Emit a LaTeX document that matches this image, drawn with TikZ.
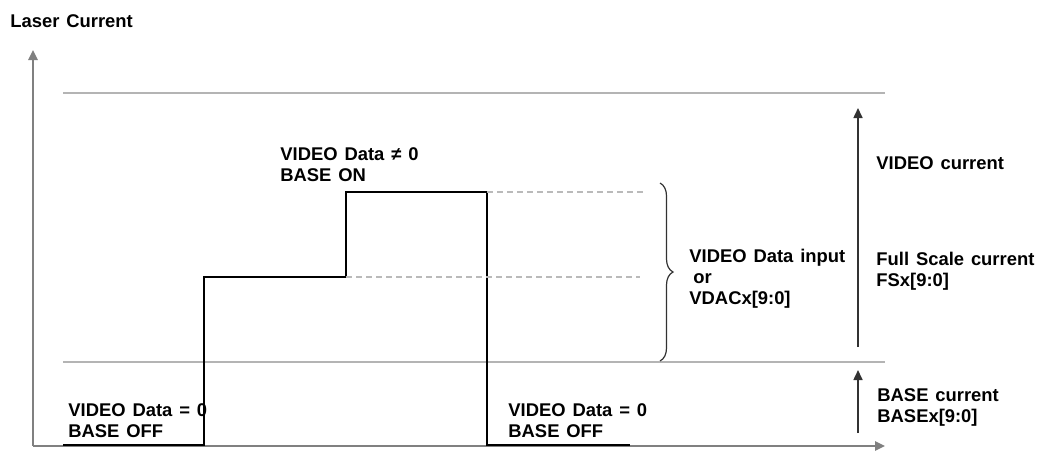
\documentclass[tikz,border=0pt]{standalone}
\usepackage{fontspec}
\setmainfont{Liberation Sans}[WordSpace=1.35]
\usepackage{tikz}
\usetikzlibrary{arrows.meta,decorations.pathreplacing}
\definecolor{axisgray}{RGB}{128,128,128}
\definecolor{gridgray}{RGB}{180,180,180}
\definecolor{dashgray}{RGB}{186,186,186}
\definecolor{arrowdark}{RGB}{50,50,50}

\begin{document}
\begin{tikzpicture}[
  x=0.5pt, y=-0.5pt,
  lbl/.style={font=\bfseries\fontsize{9.2}{10.5}\selectfont,
    inner sep=0pt, anchor=north west, align=left},
  axisline/.style={draw=axisgray, line width=1.2pt,
    -{Triangle[length=5pt,width=4.5pt]}},
  levelline/.style={draw=gridgray, line width=0.6pt},
  dashline/.style={draw=dashgray, line width=0.6pt,
    dash pattern=on 2.8pt off 2.2pt},
  wave/.style={draw=black, line width=1pt},
  currarrow/.style={draw=arrowdark, line width=0.8pt,
    -{Triangle[length=5pt,width=4.5pt]}}
]
\useasboundingbox (0,0) rectangle (1037,450);

% Achsen
\coordinate (origin) at (33,446);
\coordinate (ytip) at (33,50);
\coordinate (xtip) at (885,446);
\draw[axisline] (origin) -- (ytip);
\draw[axisline] (origin) -- (xtip);

% Pegel (Full Scale / BASE)
\coordinate (fsL) at (63,93);
\coordinate (fsR) at (885,93);
\coordinate (baseL) at (63,362);
\coordinate (baseR) at (885,362);
\draw[levelline] (fsL) -- (fsR);
\draw[levelline] (baseL) -- (baseR);

% Laserstrom-Verlauf
\coordinate (w0) at (63,445);
\coordinate (w1) at (204,445);
\coordinate (w2) at (204,277);
\coordinate (w3) at (346,277);
\coordinate (w4) at (346,192);
\coordinate (w5) at (487,192);
\coordinate (w6) at (487,445);
\coordinate (w7) at (630,445);
\draw[wave] (w0) -- (w1) -- (w2) -- (w3) -- (w4) -- (w5) -- (w6) -- (w7);

% Hilfslinien
\coordinate (d1) at (643,192);
\coordinate (d2) at (640,277);
\draw[dashline] (w5) -- (d1);
\draw[dashline] (w3) -- (d2);

% Klammer
\coordinate (brtop) at (660,183);
\coordinate (brbot) at (660,361);
\draw[arrowdark, line width=0.6pt,
  decorate, decoration={brace, amplitude=6.5pt}] (brtop) -- (brbot);

% Strompfeile
\coordinate (vidbot) at (858,347);
\coordinate (vidtop) at (858,108);
\coordinate (basebot) at (858,433);
\coordinate (basetop) at (858,370);
\draw[currarrow] (vidbot) -- (vidtop);
\draw[currarrow] (basebot) -- (basetop);

% Beschriftungen
\node[lbl] (ylabel) at (10,14.7) {Laser Current};
\node[lbl] (baseon) at (280,147.7) {VIDEO Data ≠ 0\\BASE ON};
\node[lbl] (offleft) at (68,403.4) {VIDEO Data = 0\\BASE OFF};
\node[lbl] (offright) at (508,403.4) {VIDEO Data = 0\\BASE OFF};
\node[lbl] (vdac) at (689,248.4) {VIDEO Data input\\\hspace*{2pt}or\\VDACx[9:0]};
\node[lbl] (vidcur) at (876,156.7) {VIDEO current};
\node[lbl] (fscur) at (876,251.7) {Full Scale current\\FSx[9:0]};
\node[lbl] (basecur) at (877,388.7) {BASE current\\BASEx[9:0]};

\end{tikzpicture}
\end{document}
